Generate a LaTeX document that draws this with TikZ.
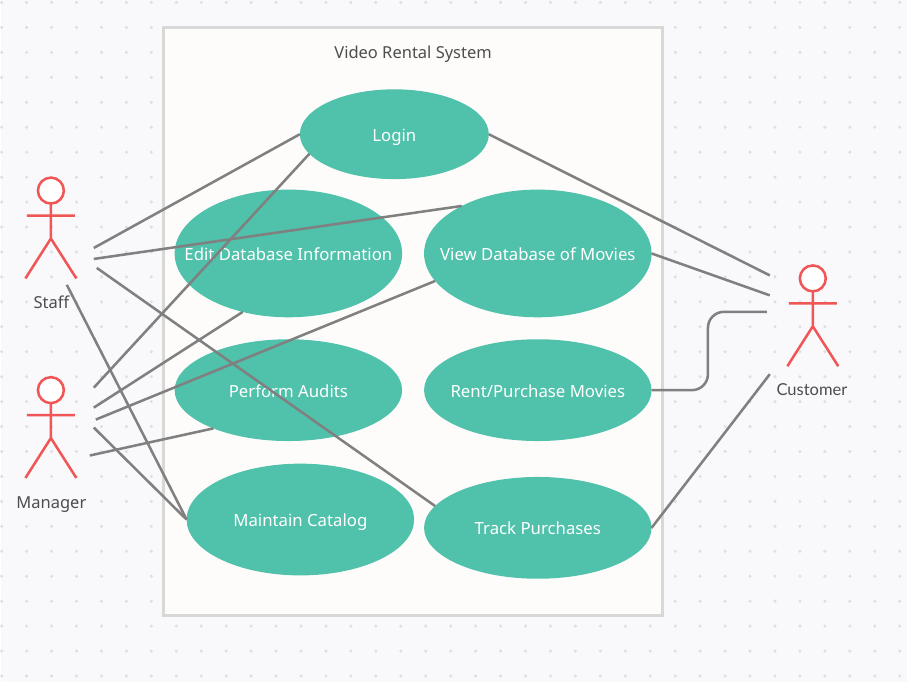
\documentclass[tikz,border=0pt]{standalone}
\usepackage{fontspec}
\setmainfont{Noto Sans}
\newfontfamily\customerfont{Lato}
\usetikzlibrary{positioning,shapes.geometric}
\definecolor{umlpage}{RGB}{249,249,252}
\definecolor{umldot}{RGB}{222,222,228}
\definecolor{umlbox}{RGB}{253,252,251}
\definecolor{umlframe}{RGB}{216,216,214}
\definecolor{umlteal}{RGB}{80,193,170}
\definecolor{umlred}{RGB}{240,86,86}
\definecolor{umlline}{RGB}{128,128,128}
\definecolor{umltext}{RGB}{77,77,77}
\newcommand{\uctext}[1]{\makebox[0pt]{#1}}
\tikzset{
  usecase/.style={ellipse, fill=umlteal, text=white, font=\fontsize{12.6}{15}\selectfont,
    minimum width=171pt, minimum height=76.5pt, inner sep=0pt, outer sep=0pt,
    text height=10.5pt, text depth=0pt},
  caption/.style={text=umltext, font=\fontsize{12.4}{15}\selectfont, inner sep=0pt,
    text height=9pt, text depth=2.5pt},
  assoc/.style={draw=umlline, line width=1.9pt},
  stick/.style={draw=umlred, line width=1.9pt},
  pics/actor/.style={code={
    \draw[stick, fill=white] (0,-88) circle (13);
    \draw[stick] (0,-75) -- (0,-40) (-24,-63) -- (24,-63) (-25.5,0) -- (0,-40) -- (25.5,0);
  }}
}
\begin{document}
\begin{tikzpicture}[x=0.75pt, y=-0.75pt, node distance=16.5pt]
  \fill[umlpage] (0,0) rectangle (908,683);
  \foreach \i in {0,...,36} \foreach \j in {0,...,27}
    \fill[umldot] (0.7+25*\i,2.5+25*\j) circle (1.7);
  \useasboundingbox (0.7,0) rectangle (907.7,683);
  \node[draw=umlframe, line width=2.2pt, fill=umlbox, minimum width=375pt, minimum height=442pt,
    inner sep=0pt] (system) at (413,321.8) {};
  \node[caption] (title) at (413,54) {Video Rental System};

  \node[usecase, minimum width=142pt, minimum height=67.5pt] (login) at (394.2,134.5) {\uctext{Login}};
  \node[usecase, minimum height=96pt] (edit) at (288,254) {\uctext{Edit Database Information}};
  \node[usecase, minimum height=96pt, right=of edit] (view) {\uctext{View Database of Movies}};
  \node[usecase, below=of edit] (audits) {\uctext{Perform Audits}};
  \node[usecase, right=of audits] (rent) {\uctext{Rent/Purchase Movies}};
  \node[usecase, minimum height=84pt, below=17pt of audits, xshift=9pt] (catalog) {\uctext{Maintain Catalog}};
  \node[usecase, below=27pt of rent] (track) {\uctext{Track Purchases}};

  \pic at (50,279) {actor};
  \pic at (50,479) {actor};
  \pic at (813.6,367) {actor};
  \node[caption] (staff) at (50.5,304.5) {Staff};
  \node[caption] (manager) at (50.5,505.5) {Manager};
  \node[caption] (customer) at (812.7,392.5) {\customerfont Customer};

  \coordinate (staffa) at (93,248.5);
  \coordinate (staffb) at (93,259.5);
  \coordinate (staffc) at (96,268.5);
  \coordinate (staffd) at (66,285.5);
  \coordinate (managera) at (93,388.5);
  \coordinate (managerb) at (93,408.5);
  \coordinate (managerc) at (95,420.5);
  \coordinate (managerd) at (93,428.5);
  \coordinate (managere) at (89,456.5);
  \coordinate (customera) at (770.5,276);
  \coordinate (customerb) at (770.5,296);
  \coordinate (customerc) at (767.5,312.5);
  \coordinate (customerd) at (770.5,375);

  \draw[assoc] (staffa) -- (login.west);
  \draw[assoc] (staffb) -- (view.148.5);
  \draw[assoc] (staffc) -- (track.168);
  \draw[assoc] (staffd) -- (catalog.west);
  \draw[assoc] (managera) -- (login.193);
  \draw[assoc] (managerb) -- (edit.232);
  \draw[assoc] (managerc) -- (view.195.6);
  \draw[assoc] (managerd) -- (catalog.west);
  \draw[assoc] (managere) -- (audits.207.5);
  \draw[assoc] (login.east) -- (customera);
  \draw[assoc] (view.east) -- (customerb);
  \draw[assoc, rounded corners=12pt] (rent.east) -| (708.5,312.5) -- (customerc);
  \draw[assoc] (track.east) -- (customerd);
\end{tikzpicture}
\end{document}
